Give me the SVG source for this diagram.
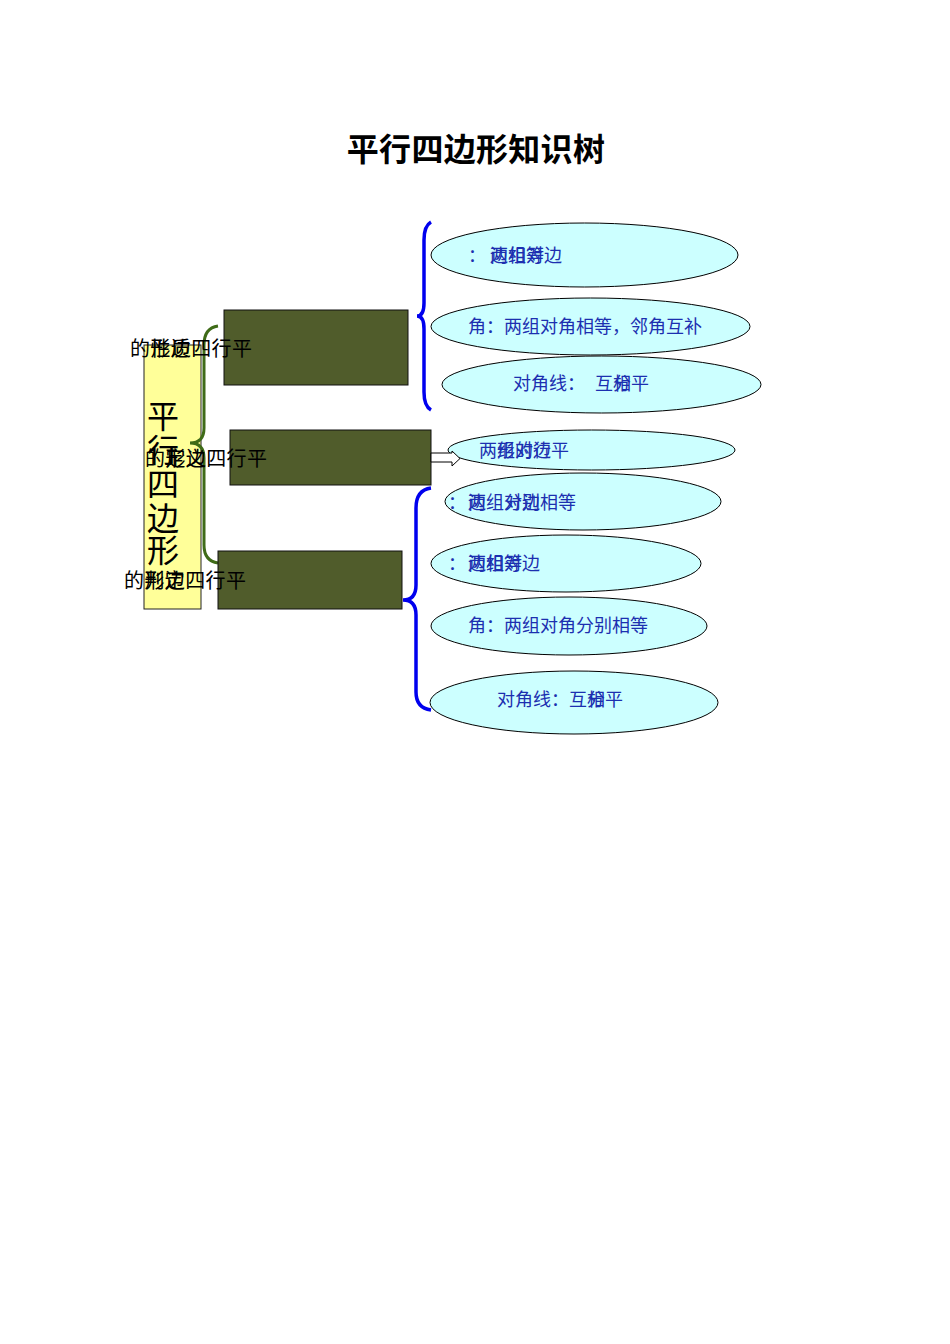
<svg xmlns="http://www.w3.org/2000/svg" width="950" height="1344" viewBox="0 0 950 1344">
<style>
.cjk{font-family:"Noto Sans CJK SC","Noto Sans CJK JP",sans-serif}
.title{font-size:32px;font-weight:bold;fill:#000}
.lbl{font-size:20px;fill:#000;letter-spacing:0.4px}
.big{font-size:32px;fill:#000}
.etx{font-size:18px;fill:#1c2fb0}
.box{fill:#505c2b;stroke:#111;stroke-width:1}
.ell{fill:#ccffff;stroke:#000;stroke-width:1}
.gb{fill:none;stroke:#3f6b18;stroke-width:3}
.bb{fill:none;stroke:#0000ee;stroke-width:3.5}
</style>
<rect width="950" height="1344" fill="#fff"/>
<text class="cjk title" x="476" y="161" text-anchor="middle" letter-spacing="0.3">平行四边形知识树</text>

<g id="root">
<rect x="144" y="345" width="57" height="264" fill="#ffff99" stroke="#222" stroke-width="1"/>
<text class="cjk big" x="163" y="428" text-anchor="middle">平</text>
<text class="cjk big" x="163" y="462" text-anchor="middle">行</text>
<text class="cjk big" x="163" y="496" text-anchor="middle">四</text>
<text class="cjk big" x="163" y="530" text-anchor="middle">边</text>
<text class="cjk big" x="163" y="562" text-anchor="middle">形</text>
</g>

<g id="connectors">
<path class="gb" d="M218,326 Q204,328 204,345 L204,428 Q204,443 190,443 Q204,443 204,458 L204,545 Q204,561 218,563"/>
<path class="bb" d="M431,222 Q424,226 424,240 L424,303 Q424,316 417,316 Q424,316 424,329 L424,392 Q424,406 431,410"/>
<path class="bb" d="M431,488 Q416,490 416,508 L416,585 Q416,600 403,600 Q416,600 416,615 L416,692 Q416,708 431,710"/>
</g>

<g id="box-property"><rect class="box" x="224" y="310" width="184" height="75"/></g>
<g id="box-definition"><rect class="box" x="230" y="430" width="201" height="55"/></g>
<g id="box-judge"><rect class="box" x="218" y="551" width="184" height="58"/></g>

<g id="e1"><ellipse class="ell" cx="584.5" cy="255" rx="153.5" ry="32"/>
<text class="cjk etx" x="468" y="262">：</text>
<text class="cjk etx" x="490" y="262">两组对边</text>
<text class="cjk etx" x="490" y="262">边相等</text></g>
<g id="e2"><ellipse class="ell" cx="590.5" cy="326.5" rx="159.5" ry="28.5"/>
<text class="cjk etx" x="468" y="333">角：两组对角相等，邻角互补</text></g>
<g id="e3"><ellipse class="ell" cx="601.5" cy="384.5" rx="159.5" ry="28.5"/>
<text class="cjk etx" x="513" y="390">对角线：</text>
<text class="cjk etx" x="595" y="390">互相平</text>
<text class="cjk etx" x="613" y="390">分</text></g>
<g id="e4"><ellipse class="ell" cx="591.5" cy="450" rx="143.5" ry="20"/>
<text class="cjk etx" x="479" y="457">两组对边平</text>
<text class="cjk etx" x="497" y="457">形的行</text></g>
<g id="e5"><ellipse class="ell" cx="583" cy="501.5" rx="138" ry="28.5"/>
<text class="cjk etx" x="448" y="509">：</text>
<text class="cjk etx" x="468" y="509">两组对边相等</text>
<text class="cjk etx" x="468" y="509">边</text>
<text class="cjk etx" x="504" y="509">分别</text></g>
<g id="e6"><ellipse class="ell" cx="566" cy="563.5" rx="135" ry="28.5"/>
<text class="cjk etx" x="448" y="570">：</text>
<text class="cjk etx" x="468" y="570">两组对边</text>
<text class="cjk etx" x="468" y="570">边相等</text></g>
<g id="e7"><ellipse class="ell" cx="569" cy="626" rx="138" ry="29"/>
<text class="cjk etx" x="468" y="632">角：两组对角分别相等</text></g>
<g id="e8"><ellipse class="ell" cx="574" cy="702.5" rx="144" ry="31.5"/>
<text class="cjk etx" x="497" y="706">对角线：互相平</text>
<text class="cjk etx" x="587" y="706">分</text></g>

<g id="arrow"><polygon points="431,453 452,453 452,451 460,458.5 452,466 452,462 431,462" fill="#fff" stroke="#000" stroke-width="1"/></g>

<g id="labels">
<text class="cjk lbl" x="130" y="356">的性质四行平</text>
<text class="cjk lbl" x="150.4" y="356">形边</text>
<text class="cjk lbl" x="145" y="466">的定义四行平</text>
<text class="cjk lbl" x="165.4" y="466">形边</text>
<text class="cjk lbl" x="124" y="588">的判定四行平</text>
<text class="cjk lbl" x="144.4" y="588">形边</text>
</g>
</svg>
